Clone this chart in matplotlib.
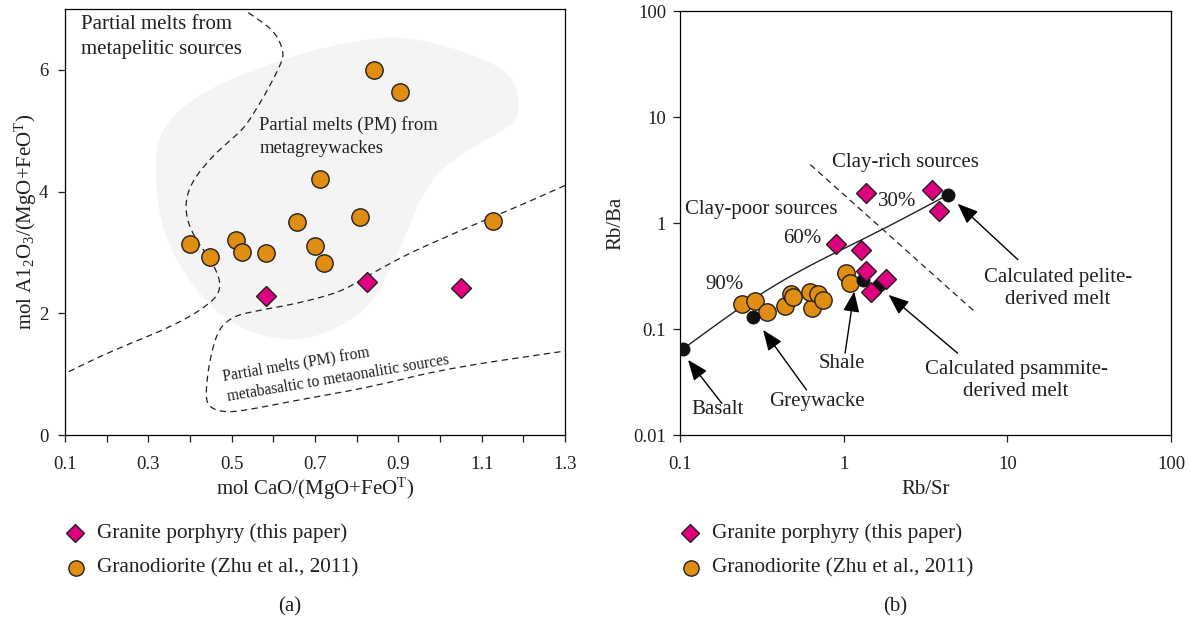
import numpy as np
import matplotlib
matplotlib.use("Agg")
import matplotlib.pyplot as plt
from matplotlib.lines import Line2D
from matplotlib.ticker import FixedLocator, FuncFormatter, NullLocator

plt.rcParams['font.family'] = ['Liberation Serif', 'DejaVu Serif']
plt.rcParams['mathtext.fontset'] = 'custom'
plt.rcParams['mathtext.rm'] = 'Liberation Serif'
plt.rcParams['mathtext.it'] = 'Liberation Serif:italic'
plt.rcParams['mathtext.bf'] = 'Liberation Serif:bold'
plt.rcParams['axes.linewidth'] = 0.9

ORANGE = '#E08E12'
MAGENTA = '#DF0080'
BLOB = '#F4F4F4'
INK = '#231F20'

# ---------------- (a) molar CaO/(MgO+FeOT) vs Al2O3/(MgO+FeOT)
gd_cao = [0.842, 0.904, 0.713, 0.656, 0.807, 1.128, 0.399, 0.449, 0.510,
          0.524, 0.583, 0.701, 0.722]
gd_al = [6.00, 5.63, 4.21, 3.50, 3.59, 3.51, 3.14, 2.93, 3.20,
         3.00, 2.99, 3.10, 2.83]
gp_cao = [0.583, 0.824, 1.051]
gp_al = [2.28, 2.52, 2.42]

# metagreywacke melt field (shaded)
grey_x = [0.924, 1.058, 1.147, 1.183, 1.192, 1.165, 1.076, 0.996, 0.951, 0.915,
          0.880, 0.835, 0.781, 0.701, 0.638, 0.549, 0.478, 0.415, 0.362, 0.326,
          0.315, 0.326, 0.371, 0.451, 0.567, 0.701, 0.835]
grey_y = [6.54, 6.31, 6.04, 5.77, 5.27, 5.05, 4.73, 4.34, 3.85, 3.25,
          2.70, 2.16, 1.86, 1.61, 1.55, 1.67, 1.94, 2.38, 2.92, 3.58,
          4.40, 4.94, 5.33, 5.71, 6.04, 6.34, 6.52]

# metapelite / metagreywacke boundary
pel_x = [0.540, 0.603, 0.625, 0.620, 0.594, 0.567, 0.531, 0.496, 0.451, 0.406,
         0.389, 0.393, 0.415, 0.451, 0.473, 0.469, 0.446, 0.406, 0.344, 0.255,
         0.174, 0.100]
pel_y = [6.94, 6.64, 6.31, 6.12, 5.77, 5.44, 5.05, 4.84, 4.56, 4.18,
         3.85, 3.52, 3.20, 2.87, 2.54, 2.32, 2.16, 1.97, 1.75, 1.50,
         1.26, 1.01]

# metabasalt-metatonalite melt field boundary
bas_x = [1.300, 1.192, 1.103, 1.013, 0.924, 0.835, 0.790, 0.746, 0.656, 0.567,
         0.513, 0.487, 0.469, 0.455, 0.442, 0.4375, 0.451, 0.478, 0.522, 0.656,
         0.835, 1.013, 1.300]
bas_y = [4.10, 3.77, 3.52, 3.25, 2.98, 2.65, 2.46, 2.32, 2.16, 2.05,
         1.97, 1.86, 1.72, 1.45, 1.01, 0.57, 0.44, 0.38, 0.39, 0.57,
         0.79, 1.09, 1.38]

# ---------------- (b) Rb/Sr vs Rb/Ba
gd_rbsr = [0.238, 0.287, 0.339, 0.438, 0.474, 0.488, 0.638, 0.623, 0.700,
           0.750, 1.04, 1.09]
gd_rbba = [0.172, 0.185, 0.146, 0.166, 0.214, 0.199, 0.157, 0.222, 0.214,
           0.188, 0.340, 0.273]
gp_rbsr = [1.37, 3.46, 3.80, 0.902, 1.28, 1.37, 1.82, 1.47]
gp_rbba = [1.92, 2.07, 1.29, 0.638, 0.56, 0.349, 0.296, 0.221]

# reference compositions: basalt, greywacke, shale, psammite melt, pelite melt
ref_rbsr = [0.104, 0.280, 1.31, 1.64, 4.32]
ref_rbba = [0.0647, 0.131, 0.287, 0.261, 1.84]

# mixing curve from basalt towards the pelite-derived melt
mix_rbsr = [0.104, 0.255, 0.541, 1.71, 4.32]
mix_rbba = [0.0647, 0.177, 0.360, 0.859, 1.84]

# clay-rich / clay-poor divide
div_rbsr = [0.625, 6.31]
div_rbba = [3.56, 0.146]

legend_labels = ['Granite porphyry (this paper)', 'Granodiorite (Zhu et al., 2011)']


def chaikin(xs, ys, n=3, closed=False):
    p = np.column_stack([xs, ys]).astype(float)
    for _ in range(n):
        if closed:
            q = np.roll(p, -1, axis=0)
            a = 0.75 * p + 0.25 * q
            b = 0.25 * p + 0.75 * q
            p = np.stack([a, b], axis=1).reshape(-1, 2)
        else:
            a = 0.75 * p[:-1] + 0.25 * p[1:]
            b = 0.25 * p[:-1] + 0.75 * p[1:]
            mid = np.stack([a, b], axis=1).reshape(-1, 2)
            p = np.vstack([p[:1], mid, p[-1:]])
    return p[:, 0], p[:, 1]


fig = plt.figure(figsize=(11.93, 6.21), dpi=100)
W, H = 1193.0, 621.0

axA = fig.add_axes([65 / W, 186 / H, 500 / W, 426 / H])
axB = fig.add_axes([680 / W, 186 / H, 491 / W, 424 / H])

# ---- panel (a)
gx, gy = chaikin(grey_x, grey_y, n=4, closed=True)
axA.fill(gx, gy, color=BLOB, lw=0, zorder=1)
dash = (0, (5, 3.5))
px_, py_ = chaikin(pel_x, pel_y, n=3)
axA.plot(px_, py_, color=INK, lw=0.9, ls=dash, zorder=2)
bx_, by_ = chaikin(bas_x, bas_y, n=3)
axA.plot(bx_, by_, color=INK, lw=0.9, ls=dash, zorder=2)

axA.plot(gd_cao, gd_al, ls='none', marker='o', ms=12.5, mfc=ORANGE,
         mec=INK, mew=1.0, zorder=4)
axA.plot(gp_cao, gp_al, ls='none', marker='D', ms=10.5, mfc=MAGENTA,
         mec=INK, mew=1.0, zorder=5)

axA.set_xlim(0.1, 1.3)
axA.set_ylim(0, 7)
axA.xaxis.set_major_locator(FixedLocator(np.arange(0.1, 1.31, 0.2)))
axA.xaxis.set_minor_locator(FixedLocator(np.arange(0.2, 1.21, 0.2)))
axA.xaxis.set_major_formatter(FuncFormatter(lambda v, p: f'{v:.1f}'))
axA.yaxis.set_major_locator(FixedLocator([0, 2, 4, 6]))
axA.yaxis.set_major_formatter(FuncFormatter(lambda v, p: f'{v:g}'))
axA.tick_params(which='both', direction='out', length=5, width=0.9,
                labelsize=13.5, colors=INK)
axA.tick_params(axis='x', which='both', pad=10)
axA.tick_params(axis='y', which='both', pad=7)
axA.set_xlabel('mol CaO/(MgO+FeO$^\\mathrm{T}$)', fontsize=15, color=INK, labelpad=2)
axA.set_ylabel('mol A1$_2$O$_3$/(MgO+FeO$^\\mathrm{T}$)', fontsize=15, color=INK, labelpad=0)

axA.text(0.138, 6.67, 'Partial melts from', fontsize=15, color=INK, ha='left', va='baseline')
axA.text(0.138, 6.26, 'metapelitic sources', fontsize=15, color=INK, ha='left', va='baseline')
axA.text(0.566, 5.01, 'Partial melts (PM) from', fontsize=13.4, color=INK, ha='left', va='baseline')
axA.text(0.566, 4.63, 'metagreywackes', fontsize=13.4, color=INK, ha='left', va='baseline')
axA.text(0.480, 0.904, 'Partial melts (PM) from', fontsize=11.2, color=INK,
         ha='left', va='baseline', rotation=9.5, rotation_mode='anchor')
axA.text(0.492, 0.564, 'metabasaltic to metaonalitic sources', fontsize=11.2, color=INK,
         ha='left', va='baseline', rotation=9.5, rotation_mode='anchor')

# ---- panel (b)
lx, ly = chaikin(np.log10(mix_rbsr), np.log10(mix_rbba), n=3)
axB.plot(10 ** lx, 10 ** ly, color=INK, lw=1.0, zorder=2)
axB.plot(div_rbsr, div_rbba, color=INK, lw=0.9, ls=dash, zorder=2)

axB.plot(gd_rbsr, gd_rbba, ls='none', marker='o', ms=12.5, mfc=ORANGE,
         mec=INK, mew=1.0, zorder=4)
axB.plot(ref_rbsr, ref_rbba, ls='none', marker='o', ms=9.5, mfc='#111111',
         mec='#111111', mew=0.5, zorder=5)
axB.plot(gp_rbsr, gp_rbba, ls='none', marker='D', ms=10.5, mfc=MAGENTA,
         mec=INK, mew=1.0, zorder=6)

axB.set_xscale('log')
axB.set_yscale('log')
axB.set_xlim(0.1, 100)
axB.set_ylim(0.01, 100)
axB.xaxis.set_major_locator(FixedLocator([0.1, 1, 10, 100]))
axB.yaxis.set_major_locator(FixedLocator([0.01, 0.1, 1, 10, 100]))
axB.xaxis.set_minor_locator(NullLocator())
axB.yaxis.set_minor_locator(NullLocator())
axB.xaxis.set_major_formatter(FuncFormatter(lambda v, p: f'{v:g}'))
axB.yaxis.set_major_formatter(FuncFormatter(lambda v, p: f'{v:g}'))
axB.tick_params(which='both', direction='out', length=5, width=0.9,
                labelsize=13.5, colors=INK)
axB.tick_params(axis='x', which='both', pad=10)
axB.tick_params(axis='y', which='both', pad=5)
axB.set_xlabel('Rb/Sr', fontsize=15, color=INK, labelpad=5)
axB.set_ylabel('Rb/Ba', fontsize=15, color=INK, labelpad=6)

axB.text(0.847, 3.69, 'Clay-rich sources', fontsize=15, color=INK, ha='left', va='center')
axB.text(1.63, 1.60, '30%', fontsize=15, color=INK, ha='left', va='center')
axB.text(0.108, 1.34, 'Clay-poor sources', fontsize=15, color=INK, ha='left', va='center')
axB.text(0.425, 0.72, '60%', fontsize=15, color=INK, ha='left', va='center')
axB.text(0.143, 0.261, '90%', fontsize=15, color=INK, ha='left', va='center')

arrow_kw = dict(arrowstyle='-|>,head_length=0.7,head_width=0.28',
                color='black', lw=1.0, shrinkA=0, shrinkB=0, mutation_scale=18)
labels_b = [
    ('Calculated pelite-\nderived melt', (20.3, 0.24), (4.97, 1.52), (11.6, 0.451)),
    ('Calculated psammite-\nderived melt', (11.3, 0.0325), (1.88, 0.21), (4.97, 0.0591)),
    ('Shale', (0.98, 0.0475), (1.16, 0.226), (1.02, 0.0591)),
    ('Greywacke', (0.684, 0.0205), (0.322, 0.098), (0.593, 0.0266)),
    ('Basalt', (0.170, 0.0175), (0.112, 0.0511), (0.180, 0.0199)),
]
for txt, pos, head, tail in labels_b:
    axB.text(pos[0], pos[1], txt, fontsize=15, color=INK, ha='center',
             va='center', linespacing=1.2)
    axB.annotate('', xy=head, xytext=tail, arrowprops=arrow_kw, zorder=7)

# ---- legends and panel tags
for x0 in (75, 690):
    fig.add_artist(Line2D([x0 / W], [1 - 533 / H], transform=fig.transFigure,
                          marker='D', ms=9.5, mfc=MAGENTA, mec=INK, mew=1.0, ls='none'))
    fig.add_artist(Line2D([(x0 + 1) / W], [1 - 568 / H], transform=fig.transFigure,
                          marker='o', ms=11, mfc=ORANGE, mec=INK, mew=1.0, ls='none'))
    fig.text((x0 + 22) / W, 1 - 533 / H, legend_labels[0], fontsize=15.3,
             color=INK, ha='left', va='center')
    fig.text((x0 + 22) / W, 1 - 568 / H, legend_labels[1], fontsize=15.3,
             color=INK, ha='left', va='center')

fig.text(290 / W, 1 - 607 / H, '(a)', fontsize=15, color=INK, ha='center', va='center')
fig.text(895 / W, 1 - 607 / H, '(b)', fontsize=15, color=INK, ha='center', va='center')

fig.savefig('out.png', dpi=100, facecolor='white')
